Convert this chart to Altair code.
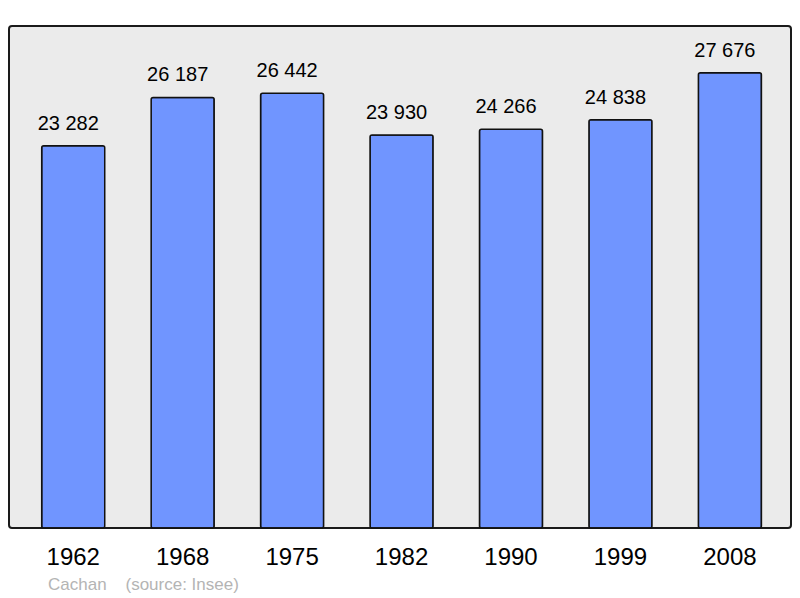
import altair as alt
import pandas as pd

years = ["1962", "1968", "1975", "1982", "1990", "1999", "2008"]
population = [23282, 26187, 26442, 23930, 24266, 24838, 27676]
labels = ["23 282", "26 187", "26 442", "23 930", "24 266", "24 838", "27 676"]

df = pd.DataFrame({"year": years, "pop": population, "label": labels})

W, H = 782, 502
FONT = "Liberation Sans"

x = alt.X("year:N", sort=years, title=None,
          scale=alt.Scale(paddingInner=0.424, paddingOuter=0.2845, align=0.525, round=False),
          axis=alt.Axis(ticks=False, domain=False, labelAngle=0, labelFontSize=24,
                        labelFont=FONT, labelColor="#000000", labelBaseline="alphabetic",
                        labelPadding=36, tickSize=0, grid=False))
y = alt.Y("pop:Q", title=None,
          scale=alt.Scale(domain=[270, 30485], zero=False, nice=False, clamp=True),
          axis=None)

bars = alt.Chart(df).mark_bar(
    color="#7095FF", filled=True, fill="#7095FF", fillOpacity=1,
    stroke="#111111", strokeWidth=1.5, cornerRadius=2
).encode(x=x, y=y)

text = alt.Chart(df).mark_text(
    baseline="alphabetic", dy=-16, dx=-5, fontSize=20, font=FONT, color="#000000"
).encode(x=x, y=y, text="label:N")

chart = alt.layer(bars, text).properties(
    width=W, height=H,
    padding={"left": 1, "top": 18, "right": 1, "bottom": 0},
    title=alt.TitleParams(
        "Cachan\u00a0\u00a0\u00a0\u00a0(source: Insee)",
        orient="bottom", anchor="start", frame="group", dx=39, offset=8,
        fontSize=17, font=FONT, fontWeight="normal", color="#b4b4b4",
    ),
).configure_view(
    fill="#EBEBEB", stroke="#1a1a1a", strokeWidth=2, cornerRadius=3
)

chart.save("out.html", embed_options={"renderer": "svg", "actions": False})
